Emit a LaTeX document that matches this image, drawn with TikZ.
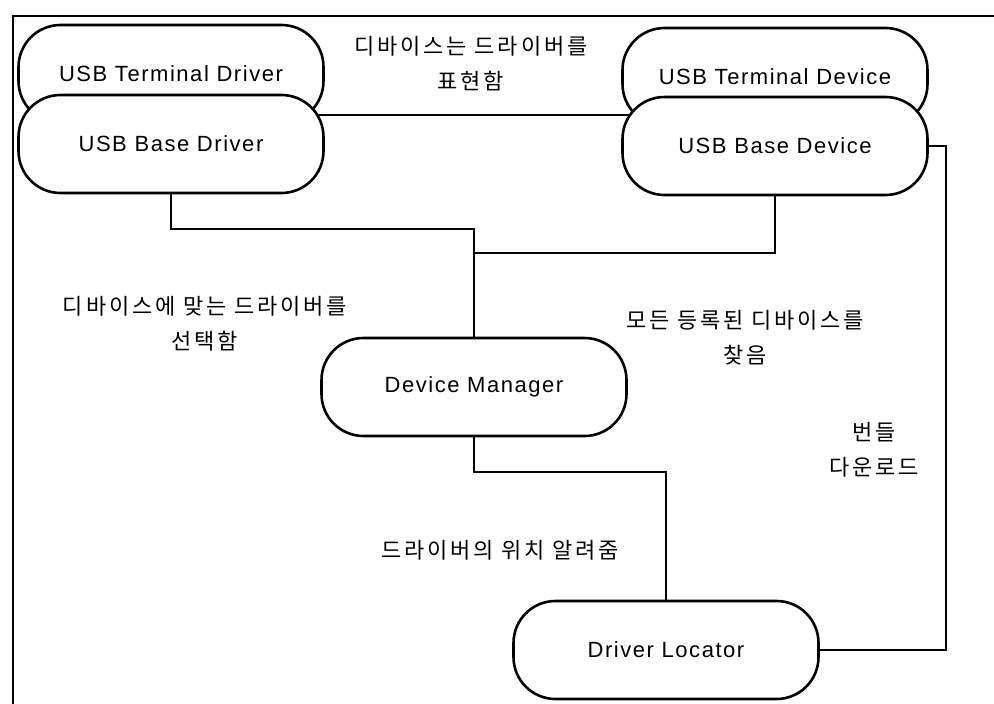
\documentclass[tikz,border=0pt]{standalone}
\usepackage{fontspec}
\setmainfont{Liberation Sans}[LetterSpace=7]
\newfontfamily\kr{Noto Sans CJK KR}[LetterSpace=13]

\pgfdeclarelayer{background}
\pgfsetlayers{background,main}

\tikzset{
  unit/.style={draw, line width=2.6pt, fill=white, rounded corners=42pt,
    minimum width=305pt, minimum height=98pt, inner sep=0pt,
    font=\fontsize{22}{26}\selectfont},
  note/.style={align=center, inner sep=0pt,
    font=\kr\fontsize{22}{35}\selectfont},
  wire/.style={line width=2pt}
}

\begin{document}
\begin{tikzpicture}[x=1pt, y=-1pt]
  \useasboundingbox (0,0) rectangle (994,704);
  % frame
  \draw[wire] (13,704) -- (13,16) -- (994,16);

  % helper points
  \coordinate (lnk)  at (0,115);
  \coordinate (bus)  at (0,229);
  \coordinate (tap)  at (0,253);
  \coordinate (turn) at (0,472);
  \coordinate (rail) at (946,400);

  % boxes
  \node[unit] (termdrv) at (171,74)  {USB Terminal Driver};
  \node[unit] (basedrv) at (171,144) {USB Base Driver};
  \node[unit] (termdev) at (775,77)  {USB Terminal Device};
  \node[unit] (basedev) at (775,146) {USB Base Device};
  \node[unit] (devmgr)  at (474,387) {Device Manager};
  \node[unit] (drvloc)  at (666,650) {Driver Locator};

  % connectors (behind the boxes)
  \begin{pgfonlayer}{background}
    \draw[wire] (basedrv.center |- lnk) -- (basedev.center |- lnk);
    \draw[wire] (basedrv.south) |- (devmgr.north |- bus) -- (devmgr.north);
    \draw[wire] (basedev.south) |- (devmgr.north |- tap);
    \draw[wire] (devmgr.south) -- (devmgr.south |- turn) -| (drvloc.north);
    \draw[wire] (drvloc.east) -| (rail) |- (basedev.east);
  \end{pgfonlayer}

  % labels
  \node[note] (lblrep)  at (471,64)  {디바이스는 드라이버를\\표현함};
  \node[note] (lblsel)  at (205,324) {디바이스에 맞는 드라이버를\\선택함};
  \node[note] (lblfind) at (745,338) {모든 등록된 디바이스를\\찾음};
  \node[note] (lbldown) at (874,450) {번들\\다운로드};
  \node[note] (lblloc)  at (500,550) {드라이버의 위치 알려줌};
\end{tikzpicture}
\end{document}
